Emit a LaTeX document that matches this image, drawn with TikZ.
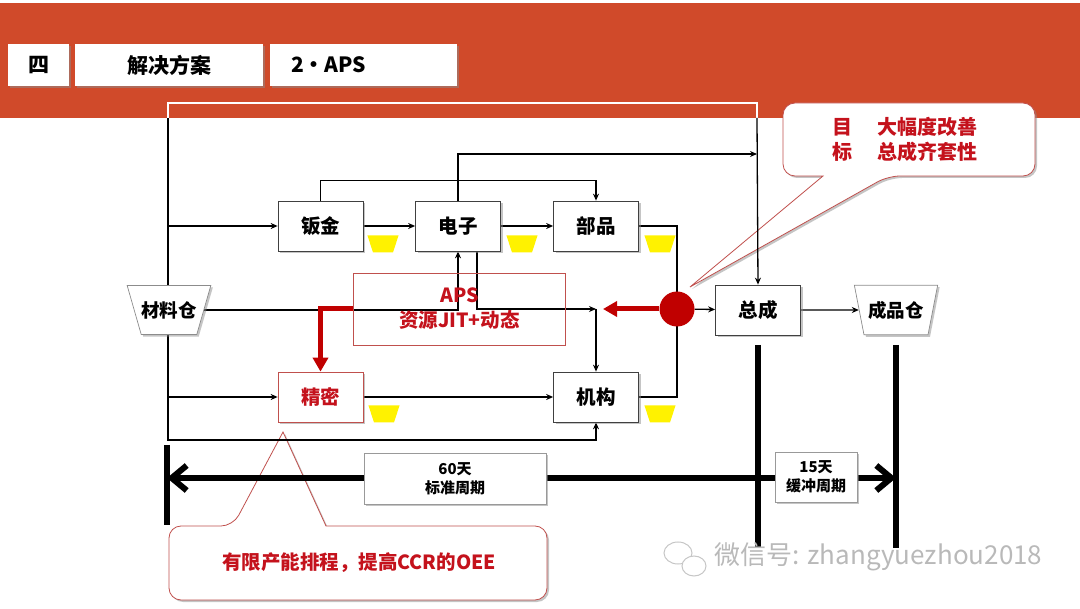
\documentclass[tikz,border=0pt]{standalone}
\usepackage{fontspec}
\setmainfont{Noto Sans CJK SC}
\usetikzlibrary{arrows,arrows.meta,shapes,shadows}
\pgfdeclarelayer{background}
\pgfdeclarelayer{wires}
\pgfsetlayers{background,wires,main}

\definecolor{band}{RGB}{208,74,42}
\definecolor{deepred}{RGB}{192,0,0}
\definecolor{txtred}{RGB}{196,18,28}
\definecolor{edgered}{RGB}{192,80,77}

\begin{document}
\begin{tikzpicture}[x=1pt, y=-1pt,
    >={Stealth[length=7pt,width=6pt]},
    shade/.style = {drop shadow={shadow xshift=2pt, shadow yshift=-2pt, fill=black!45, opacity=0.5}},
    wire/.style = {line width=1.3pt},
    tab/.style = {fill=white, minimum height=42pt, inner sep=0pt, shade,
      font=\fontsize{21}{24}\selectfont\bfseries},
    box/.style = {draw=black!75, fill=white, line width=0.7pt, shade,
      minimum width=85pt, minimum height=50pt,
      font=\fontsize{19.5}{22}\selectfont\bfseries},
    redbox/.style = {box, draw=edgered, text=txtred},
    store/.style = {trapezium, shape border rotate=180,
      trapezium angle=74, draw=black!45, fill=white, line width=0.7pt, shade,
      inner xsep=0pt, inner ysep=15.75pt,
      font=\fontsize{18.5}{22}\selectfont\bfseries},
    pad/.style = {trapezium, shape border rotate=180,
      trapezium angle=72, fill=yellow, inner xsep=10pt, inner ysep=8.5pt},
    hub/.style = {circle, fill=deepred, minimum size=35pt, inner sep=0pt},
    push/.style = {draw=deepred, line width=5pt, -{Triangle[length=14pt,width=15pt]}},
    callout/.style = {draw=edgered, fill=white, line width=0.8pt, shade},
    bar/.style = {line width=6pt},
    span/.style = {line width=6pt,
      {Straight Barb[length=15pt,width=25pt]}-{Straight Barb[length=15pt,width=25pt]}},
    daybox/.style = {draw=black!40, fill=white, line width=0.6pt, shade, align=center,
      font=\fontsize{15}{19}\selectfont\bfseries}
  ]
  \useasboundingbox (0,0) rectangle (1080,609);

  % header
  \begin{pgfonlayer}{background}
    \fill[band] (0,3) rectangle (1080,118);
    \draw[callout] (783,140) [rounded corners=12pt] -- (783,103) -- (1035,103)
      -- (1035,176) -- (888,176) [sharp corners] -- (690,287) -- (823,176)
      [rounded corners=12pt] -- (783,176) -- cycle;
    \draw[callout] (169,560) [rounded corners=12pt] -- (169,526) -- (233,526)
      [sharp corners] -- (283,432) -- (326,526)
      [rounded corners=12pt] -- (547,526) -- (547,600) -- (169,600) -- cycle;
  \end{pgfonlayer}
  \node[tab, minimum width=61pt] (num) at (38.5,65) {四};
  \node[tab, minimum width=188pt] (part) at (169,65) {解决方案};
  \node[tab, text width=145pt, inner xsep=21pt, align=left] (sub) at (363.5,65) {2・APS};

  % flow nodes
  \foreach \name/\x/\y/\txt in {banjin/320.5/226/钣金, dianzi/458/226/电子,
      bupin/596/226/部品, jigou/596/397/机构, zongcheng/758/310/总成}
    \node[box] (\name) at (\x,\y) {\txt};
  \node[redbox] (jingmi) at (320.5,397) {精密};
  \node[store] (cailiao) at (169,310) {材料仓};
  \node[store, trapezium angle=79, inner xsep=4.25pt] (chengpin) at (896,310) {成品仓};
  \node[draw=edgered, line width=0.8pt, minimum width=212pt, minimum height=72pt,
    text=txtred, align=center, font=\fontsize{19.5}{25}\selectfont\bfseries]
    (aps) at (459.5,309) {APS\\资源JIT+动态};
  \node[hub] (hub) at (677,309) {};
  \foreach \x/\y [count=\i] in {383/244, 522/244, 660/244, 384/414, 660/414}
    \node[pad] (pad\i) at (\x,\y) {};

  \coordinate (hdL) at (168,118);
  \coordinate (hdR) at (757,118);
  \coordinate (topL) at (168,103);
  \coordinate (topR) at (757,103);
  \coordinate (tapR) at (757,154);
  \coordinate (botL) at (168,440);
  \coordinate (jn) at (596,309);
  \coordinate (jnR) at (603,309);

  % connectors
  \begin{pgfonlayer}{wires}
    \draw[wire, white] (hdL) -- (topL) -- (topR) -- (hdR);
    \draw[wire, ->] (hdR) -- (zongcheng.north);
    \draw[wire, ->] (hdL) -- (botL) -| (jigou.south);
    \draw[wire, ->] (banjin.west -| hdL) -- (banjin.west);
    \draw[wire, ->] (jingmi.west -| hdL) -- (jingmi.west);
    \draw[wire, ->] (banjin) -- (dianzi);
    \draw[wire, ->] (dianzi) -- (bupin);
    \draw[wire, ->] (banjin.north) -- ++(0,-20) -| (bupin.north);
    \draw[wire, ->] (dianzi.north) |- (tapR);
    \draw[wire] (bupin.east) -| (hub.center) |- (jigou.east);
    \draw[wire, ->] (cailiao.east) -| (dianzi.south);
    \draw[wire, ->] ([xshift=19pt]dianzi.south) |- (jn);
    \draw[wire, ->] (jn) -- (jigou.north);
    \draw[wire, ->] (jingmi) -- (jigou);
    \draw[wire, ->] (hub) -- (zongcheng);
    \draw[wire, ->] (zongcheng) -- (chengpin);
    % time line
    \draw[bar] (167,445) -- (167,525);
    \draw[bar] (758,345) -- (758,548);
    \draw[bar] (896,345) -- (896,548);
    \coordinate (spanL) at (167,478);
    \coordinate (spanR) at (896,478);
    \draw[span] (spanL) -- (spanR);
  \end{pgfonlayer}
  \draw[push] (aps.west) -| (jingmi.north);
  \draw[push] (hub) -- (jnR);

  \node[daybox, minimum width=182pt, minimum height=51pt] (std) at (455,478.5) {60天\\标准周期};
  \node[daybox, minimum width=82pt, minimum height=50pt] (buf) at (816,477) {15天\\缓冲周期};

  % callout texts
  \node[text=txtred, align=left, font=\fontsize{20}{25}\selectfont\bfseries] (goal)
    at (904.5,139) {目\hspace{25pt}大幅度改善\\标\hspace{25pt}总成齐套性};
  \node[text=txtred, font=\fontsize{19.5}{22}\selectfont\bfseries] (ccr)
    at (359,563) {有限产能排程，提高CCR的OEE};

  % watermark
  \draw[gray!45, line width=1pt, fill=white] (678,553) ellipse (14 and 11);
  \draw[gray!45, line width=1pt, fill=white] (694,566) ellipse (12 and 10);
  \node[anchor=west, text=gray!55, font=\fontsize{26}{28}\selectfont] (mark)
    at (711,557) {微信号: zhangyuezhou2018};
\end{tikzpicture}
\end{document}
